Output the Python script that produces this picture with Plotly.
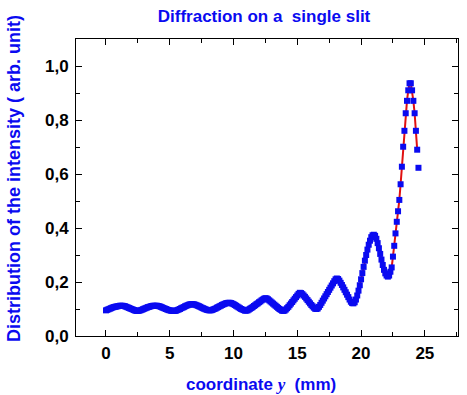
import plotly.graph_objects as go

# coordinate y (mm), sampled every 0.1 mm
x_mm = [round(0.1 * i, 1) for i in range(246)]

intensity = [
    # 0.0 - 1.3
    0.095, 0.097, 0.099, 0.101, 0.103, 0.105, 0.107, 0.108, 0.109, 0.110, 0.111, 0.112, 0.112, 0.112,
    # 1.4 - 2.5
    0.111, 0.110, 0.108, 0.106, 0.104, 0.102, 0.100, 0.098, 0.096, 0.094, 0.093, 0.093,
    # 2.6 - 4.0
    0.094, 0.095, 0.097, 0.099, 0.101, 0.103, 0.105, 0.107, 0.108, 0.110, 0.111, 0.112, 0.112, 0.112, 0.112,
    # 4.1 - 5.4
    0.111, 0.110, 0.108, 0.106, 0.104, 0.102, 0.100, 0.098, 0.096, 0.095, 0.094, 0.093, 0.093, 0.093,
    # 5.5 - 6.8
    0.094, 0.096, 0.098, 0.100, 0.103, 0.105, 0.107, 0.110, 0.112, 0.114, 0.116, 0.117, 0.118, 0.118,
    # 6.9 - 8.2
    0.117, 0.116, 0.114, 0.112, 0.110, 0.108, 0.105, 0.103, 0.101, 0.099, 0.097, 0.096, 0.095, 0.095,
    # 8.3 - 9.7
    0.096, 0.098, 0.100, 0.102, 0.105, 0.107, 0.110, 0.112, 0.115, 0.117, 0.119, 0.121, 0.122, 0.123, 0.123,
    # 9.8 - 11.0
    0.122, 0.120, 0.118, 0.115, 0.112, 0.109, 0.106, 0.103, 0.100, 0.098, 0.096, 0.094, 0.094,
    # 11.1 - 12.5
    0.095, 0.098, 0.101, 0.104, 0.107, 0.111, 0.114, 0.118, 0.121, 0.125, 0.128, 0.132, 0.135, 0.138, 0.140,
    # 12.6 - 13.9
    0.139, 0.136, 0.132, 0.128, 0.124, 0.120, 0.116, 0.112, 0.108, 0.104, 0.100, 0.097, 0.094, 0.093,
    # 14.0 - 15.2
    0.094, 0.098, 0.103, 0.108, 0.114, 0.120, 0.126, 0.132, 0.138, 0.144, 0.150, 0.156, 0.160,
    # 15.3 - 16.5
    0.159, 0.155, 0.150, 0.145, 0.139, 0.133, 0.127, 0.121, 0.115, 0.110, 0.105, 0.101, 0.100,
    # 16.6 - 18.1
    0.102, 0.108, 0.115, 0.123, 0.131, 0.139, 0.147, 0.155, 0.163, 0.171, 0.179, 0.187, 0.195, 0.203, 0.210, 0.213,
    # 18.2 - 19.4
    0.211, 0.205, 0.197, 0.189, 0.180, 0.171, 0.162, 0.153, 0.144, 0.135, 0.127, 0.122, 0.121,
    # 19.5 - 21.0
    0.125, 0.135, 0.150, 0.168, 0.188, 0.210, 0.233, 0.256, 0.279, 0.300, 0.320, 0.338, 0.353, 0.366, 0.373, 0.375,
    # 21.1 - 22.1
    0.371, 0.360, 0.344, 0.325, 0.304, 0.283, 0.263, 0.245, 0.232, 0.224, 0.220,
    # 22.2 - 23.8
    0.224, 0.238, 0.254, 0.294, 0.334, 0.380, 0.423, 0.462, 0.504, 0.562, 0.627, 0.701, 0.760, 0.825, 0.871, 0.910, 0.936,
    # 23.9 - 24.5
    0.936, 0.910, 0.871, 0.825, 0.760, 0.690, 0.623,
]

# fitted curve drawn under the points (ends before the last point)
fit_x = x_mm[:-1]
fit_y = intensity[:-1]

x_ticks = [0, 5, 10, 15, 20, 25]
y_ticks = [0.0, 0.2, 0.4, 0.6, 0.8, 1.0]

BLUE = "#0a0af0"
W, H = 467, 395
L, R, T, B = 76, 9, 39, 59
PW, PH = W - L - R, H - T - B


def px_to_paper(px, py):
    return (px - L) / PW, (H - B - py) / PH


fig = go.Figure()
fig.add_trace(go.Scatter(x=fit_x, y=fit_y, mode="lines",
                         line=dict(color="#e01010", width=2), showlegend=False))
fig.add_trace(go.Scatter(x=x_mm, y=intensity, mode="markers",
                         marker=dict(symbol="square", size=6, color=BLUE, line=dict(width=0)),
                         showlegend=False))

axis_common = dict(showline=True, linecolor="black", linewidth=1, mirror="allticks",
                   ticks="inside", ticklen=6, tickcolor="black", showgrid=False, zeroline=False)

fig.update_xaxes(range=[-2.35, 27.6], tickvals=x_ticks, ticktext=[str(v) for v in x_ticks],
                 tickfont=dict(family="Liberation Sans, Arial", size=17, color="black", weight="bold"),
                 ticklabelstandoff=2,
                 minor=dict(dtick=2.5, tick0=0, ticks="inside", ticklen=4, tickcolor="black"),
                 **axis_common)
fig.update_yaxes(range=[0, 1.1], tickvals=y_ticks, ticktext=[f"{v:.1f}".replace(".", ",") for v in y_ticks],
                 tickfont=dict(family="Liberation Sans, Arial", size=17, color="black", weight="bold"),
                 minor=dict(dtick=0.1, tick0=0, ticks="inside", ticklen=4, tickcolor="black"),
                 ticklabelstandoff=3,
                 **axis_common)

xt_x, xt_y = px_to_paper(261, 384)
yt_x, yt_y = px_to_paper(14, 179)

fig.update_layout(
    width=W, height=H,
    margin=dict(l=L, r=R, t=T, b=B),
    paper_bgcolor="white", plot_bgcolor="white",
    title=dict(text="Diffraction on a  single slit", x=264 / W, xref="container",
               xanchor="center", y=1 - 16 / H, yref="container", yanchor="middle",
               font=dict(family="Liberation Sans, Arial", size=17, color=BLUE, weight="bold")),
    annotations=[
        dict(text="coordinate <span style='font-family:Liberation Serif;font-style:italic'>y</span>  (mm)",
             xref="paper", yref="paper", x=xt_x, y=xt_y, xanchor="center", yanchor="middle",
             showarrow=False,
             font=dict(family="Liberation Sans, Arial", size=17, color=BLUE, weight="bold")),
        dict(text="Distribution of the intensity ( arb. unit)",
             xref="paper", yref="paper", x=yt_x, y=yt_y, xanchor="center", yanchor="middle",
             textangle=-90, showarrow=False,
             font=dict(family="Liberation Sans, Arial", size=18, color=BLUE, weight="bold")),
    ],
)

fig.write_html("out.html", config={"displayModeBar": False},
               post_script="document.body.style.margin='0';document.body.style.padding='0';")
